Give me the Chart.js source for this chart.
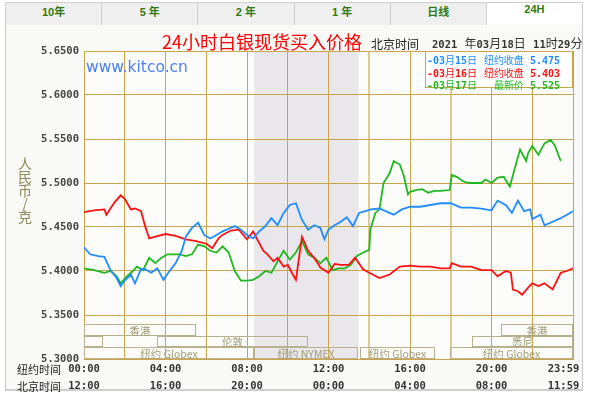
<!DOCTYPE html>
<html lang="zh">
<head>
<meta charset="UTF-8">
<title>24小时白银现货买入价格</title>
<script src="https://cdn.jsdelivr.net/npm/chart.js"></script>
<style>
    body { margin: 0; width: 591px; height: 396px; position: relative; overflow: hidden; background: #fff; font-family: "Noto Sans CJK SC", sans-serif; }
    #tabs { position: absolute; left: 5px; top: 2px; width: 578px; height: 24px; display: flex; }
    #tabs div { flex: 1; box-sizing: border-box; border: 1px solid #cfcfcf; border-right: none; background: #efefef;
                text-align: center; line-height: 22px; font: bold 11px "Liberation Sans", "Noto Sans CJK SC", sans-serif; color: #2f7a10; }
    #tabs div:last-child { border-right: 1px solid #cfcfcf; background: #fff; border-bottom-color: #fff; }
    #panel { position: absolute; left: 5px; top: 25px; width: 578px; height: 366px; box-sizing: border-box;
             border: 1px solid #c8c8c8; border-top: none; border-bottom: 2px solid #cdcdcd; background: #f9faf8; }
    canvas { position: absolute; left: 0; top: 0; }
    .txt { position: absolute; white-space: pre; }
    #legend { position: absolute; left: 425px; top: 51px; width: 148px; height: 37px; box-sizing: border-box;
              background: #fff; border: 1px solid #c9a448; padding: 0 12px 0 1px; }
    #legend .row { display: flex; justify-content: space-between; height: 12.5px; line-height: 12.5px;
                   font: bold 10px "DejaVu Sans Mono", "Noto Sans CJK SC", monospace; }
    #legend .row span.cn { font-weight: normal; font-size: 10px; }
</style>
</head>
<body>
<div id="tabs"></div>
<div id="panel"></div>
<canvas id="chart" width="591" height="396"></canvas>

<div class="txt" style="left:162px; top:31px; font-size:18px; line-height:21px; color:#f00;">24小时白银现货买入价格</div>
<div class="txt" style="left:371px; top:37px; font-size:12px; line-height:14px; color:#222;">北京时间</div>
<div class="txt" style="left:432px; top:37px; font:bold 10.5px/14px 'DejaVu Sans Mono','Noto Sans CJK SC',monospace; color:#333;">2021<span style="font-weight:normal;font-size:12px"> 年</span>03<span style="font-weight:normal;font-size:12px">月</span>18<span style="font-weight:normal;font-size:12px">日 </span>11<span style="font-weight:normal;font-size:12px">时</span>29<span style="font-weight:normal;font-size:12px">分</span></div>
<div class="txt" style="left:86px; top:58px; font:15.5px/18px 'DejaVu Sans',sans-serif; color:#4d7ef0;">www.kitco.cn</div>
<div class="txt" style="left:18px; top:157px; font-size:14px; line-height:13.3px; color:#8c8a58; text-align:center; width:14px;">人<br>民<br>币<br>/<br>克</div>
<div class="txt" style="left:17px; top:362px; font-size:11px; line-height:14px; color:#222;">纽约时间</div>
<div class="txt" style="left:17px; top:379px; font-size:11px; line-height:14px; color:#222;">北京时间</div>
<div id="legend"></div>

<script>
    // tabs and legend text
    const tabNames = ['10年', '5 年', '2 年', '1 年', '日线', '24H'];
    const seriesDates = ['03月15日', '03月16日', '03月17日'];
    const seriesTags = ['纽约收盘', '纽约收盘', '最新价'];
    const seriesLast = ['5.475', '5.403', '5.525'];
    const seriesColors = ['#1e8cff', '#ff1010', '#20b820'];

    // x axis: hours since 00:00 New York time
    const nyLabels = ['00:00', '04:00', '08:00', '12:00', '16:00', '20:00', '23:59'];
    const bjLabels = ['12:00', '16:00', '20:00', '00:00', '04:00', '08:00', '11:59'];

    // 03/15 (blue)
    const blueHours = [0,0.3,0.7,1,1.3,1.6,1.8,2,2.3,2.5,2.8,3,3.3,3.6,3.9,4.2,4.5,4.8,5,5.3,5.6,5.9,6.2,6.5,6.8,7.1,7.4,7.7,8,8.3,8.6,8.9,9.2,9.5,9.8,10.1,10.4,10.7,11,11.3,11.6,11.8,12,12.3,12.6,12.9,13.2,13.5,13.8,14.1,14.5,14.8,15.2,15.6,16,16.5,17,17.5,18,18.5,19,19.5,20,20.3,20.7,21,21.3,21.6,21.9,22,22.4,22.6,23,23.4,23.7,24];
    const blueValues = [5.427,5.419,5.417,5.416,5.401,5.392,5.383,5.389,5.396,5.386,5.402,5.402,5.398,5.403,5.390,5.400,5.409,5.423,5.439,5.449,5.455,5.441,5.437,5.441,5.445,5.448,5.451,5.447,5.441,5.437,5.445,5.451,5.460,5.452,5.466,5.475,5.477,5.458,5.447,5.452,5.449,5.436,5.447,5.452,5.456,5.461,5.451,5.466,5.468,5.470,5.471,5.468,5.464,5.470,5.473,5.473,5.475,5.477,5.477,5.472,5.472,5.471,5.469,5.480,5.475,5.466,5.480,5.468,5.470,5.459,5.464,5.452,5.456,5.460,5.464,5.468];

    // 03/16 (red)
    const redHours = [0,0.5,1,1.1,1.5,1.8,2,2.3,2.5,2.8,3,3.2,3.5,4,4.5,5,5.5,6,6.3,6.6,6.8,7.2,7.6,8,8.3,8.5,8.8,9,9.3,9.5,9.8,10,10.2,10.4,10.7,11,11.3,11.6,12,12.3,12.6,13,13.3,13.7,14,14.5,15,15.5,16,16.5,17,17.5,17.95,18.05,18.5,19,19.5,20,20.3,20.7,20.95,21.05,21.3,21.5,21.8,22,22.3,22.6,23,23.4,23.7,24];
    const redValues = [5.467,5.469,5.470,5.464,5.478,5.486,5.482,5.470,5.471,5.468,5.451,5.437,5.439,5.442,5.440,5.436,5.434,5.431,5.426,5.437,5.441,5.446,5.447,5.436,5.445,5.436,5.423,5.419,5.411,5.415,5.405,5.407,5.398,5.390,5.439,5.423,5.415,5.404,5.398,5.408,5.407,5.407,5.415,5.402,5.398,5.392,5.396,5.405,5.406,5.405,5.405,5.403,5.403,5.409,5.405,5.405,5.401,5.401,5.394,5.400,5.398,5.379,5.377,5.373,5.381,5.386,5.383,5.386,5.379,5.398,5.400,5.403];

    // 03/17 (green), still running
    const greenHours = [0,0.5,1,1.3,1.6,1.8,2.1,2.4,2.6,2.9,3.2,3.5,3.8,4.1,4.4,4.7,5,5.3,5.6,5.9,6.2,6.5,6.8,7.1,7.4,7.7,8,8.3,8.6,8.9,9.2,9.5,9.8,10.1,10.4,10.7,11,11.3,11.6,11.9,12.2,12.5,12.8,13.1,13.4,13.7,14,14.05,14.3,14.5,14.7,15,15.2,15.5,15.7,15.9,16,16.3,16.6,16.9,17.2,17.5,17.95,18.05,18.3,18.6,18.9,19.2,19.5,19.7,20,20.3,20.6,20.9,21.1,21.4,21.7,21.8,22,22.3,22.6,22.9,23.1,23.4];
    const greenValues = [5.403,5.401,5.398,5.400,5.394,5.386,5.394,5.400,5.405,5.401,5.415,5.409,5.415,5.419,5.419,5.419,5.417,5.419,5.430,5.428,5.423,5.421,5.428,5.421,5.400,5.389,5.389,5.390,5.394,5.400,5.398,5.411,5.423,5.413,5.421,5.434,5.419,5.415,5.409,5.415,5.401,5.403,5.403,5.407,5.417,5.421,5.424,5.447,5.466,5.470,5.500,5.511,5.525,5.521,5.508,5.487,5.490,5.492,5.493,5.489,5.491,5.491,5.492,5.509,5.507,5.502,5.500,5.500,5.500,5.504,5.500,5.506,5.507,5.496,5.513,5.538,5.525,5.534,5.542,5.532,5.545,5.549,5.543,5.525];

    // trading sessions (hours NY time), row 0 = top
    const sessionNames = ['香港', '香港', '', '伦敦', '悉尼', '纽约 Globex', '纽约 NYMEX', '纽约 Globex', '纽约 Globex'];
    const sessionRows = [0, 0, 1, 1, 1, 2, 2, 2, 2];
    const sessionStart = [0, 20.48, 0, 3.6, 19.04, 0, 8.35, 13.56, 17.98];
    const sessionEnd = [5.49, 24, 0.95, 10.97, 24, 8.35, 13.47, 17.24, 24];
    const nymexStart = 8.35, nymexEnd = 13.47;

    // build tabs + legend
    document.getElementById('tabs').innerHTML = tabNames.map(t => `<div>${t}</div>`).join('');
    document.getElementById('legend').innerHTML = seriesDates.map((d, i) => {
        const m = d.match(/(\d+)月(\d+)日/);
        return `<div class="row" style="color:${seriesColors[i]}">
            <span>-${m[1]}<span class="cn">月</span>${m[2]}<span class="cn">日</span></span>
            <span><span class="cn">${seriesTags[i]}</span> ${seriesLast[i]}</span></div>`;
    }).join('');

    function toPoints(hours, values) {
        return hours.map((h, i) => ({ x: h, y: values[i] }));
    }

    // plot background + grey NYMEX period
    const backdrop = {
        id: 'backdrop',
        beforeDraw(chart) {
            const { ctx, chartArea: a, scales: { x } } = chart;
            ctx.save();
            ctx.fillStyle = '#fcfdfb';
            ctx.fillRect(a.left, a.top, a.right - a.left, a.bottom - a.top);
            const x1 = x.getPixelForValue(nymexStart), x2 = x.getPixelForValue(nymexEnd);
            ctx.fillStyle = '#e9e7eb';
            ctx.fillRect(x1, a.top, x2 - x1, a.bottom - a.top);
            ctx.restore();
        }
    };

    // session boxes along the bottom
    const sessions = {
        id: 'sessions',
        beforeDatasetsDraw(chart) {
            const { ctx, scales: { x, y } } = chart;
            const rowTop = 5.34, rowH = 0.04 / 3;
            ctx.save();
            ctx.strokeStyle = '#b9b18c';
            ctx.lineWidth = 1;
            ctx.fillStyle = '#a39b74';
            ctx.font = '10.5px "Noto Sans CJK SC", sans-serif';
            ctx.textAlign = 'center';
            ctx.textBaseline = 'middle';
            sessionNames.forEach((name, i) => {
                const top = Math.round(y.getPixelForValue(rowTop - sessionRows[i] * rowH)) + 0.5;
                const bot = Math.round(y.getPixelForValue(rowTop - (sessionRows[i] + 1) * rowH)) - 0.5;
                const l = Math.round(x.getPixelForValue(sessionStart[i])) + 0.5;
                const r = Math.round(x.getPixelForValue(sessionEnd[i])) - 0.5;
                ctx.strokeRect(l, top, r - l, bot - top);
                if (name) ctx.fillText(name, (l + r) / 2, (top + bot) / 2 + 1);
            });
            ctx.restore();
        }
    };

    const gridColor = '#c9a448';
    const tickFont = { family: '"DejaVu Sans Mono", monospace', size: 10.5, weight: 'bold', lineHeight: 1.6 };

    new Chart(document.getElementById('chart'), {
        type: 'line',
        data: {
            datasets: [
                { label: seriesDates[0], data: toPoints(blueHours, blueValues), borderColor: seriesColors[0] },
                { label: seriesDates[1], data: toPoints(redHours, redValues), borderColor: seriesColors[1] },
                { label: seriesDates[2], data: toPoints(greenHours, greenValues), borderColor: seriesColors[2] }
            ]
        },
        options: {
            responsive: false,
            animation: false,
            events: [],
            layout: { padding: { top: 51, right: 18, left: 0, bottom: 0 } },
            elements: { point: { radius: 0 }, line: { borderWidth: 1.8, tension: 0 } },
            plugins: { legend: { display: false }, tooltip: { enabled: false } },
            scales: {
                x: {
                    type: 'linear', min: 0, max: 24,
                    afterFit: s => { s.height = 37; s.paddingLeft = 0; s.paddingRight = 0; },
                    border: { color: gridColor },
                    grid: {
                        drawTicks: false,
                        color: c => (c.tick && (c.tick.value === 14 || c.tick.value === 18)) ? '#dccb93' : gridColor,
                        lineWidth: c => (c.tick && (c.tick.value === 14 || c.tick.value === 18)) ? 2 : 1
                    },
                    ticks: {
                        stepSize: 2, autoSkip: false, maxRotation: 0, padding: 2,
                        color: '#333', font: tickFont,
                        callback: v => {
                            if (v % 4 !== 0) return '';
                            const k = v / 4;
                            // last label sits left of its gridline like the original
                            return k === 6 ? [nyLabels[k] + '   ', bjLabels[k] + '   '] : [nyLabels[k], bjLabels[k]];
                        }
                    }
                },
                y: {
                    min: 5.30, max: 5.65,
                    afterFit: s => { s.width = 84; s.paddingTop = 0; s.paddingBottom = 0; },
                    border: { color: gridColor },
                    grid: { drawTicks: false, color: gridColor },
                    ticks: {
                        stepSize: 0.05, padding: 5, color: '#444',
                        font: { family: '"DejaVu Sans Mono", monospace', size: 10.5, weight: 'bold' },
                        callback: v => Number(v).toFixed(4)
                    }
                }
            }
        },
        plugins: [backdrop, sessions]
    });
</script>
</body>
</html>
